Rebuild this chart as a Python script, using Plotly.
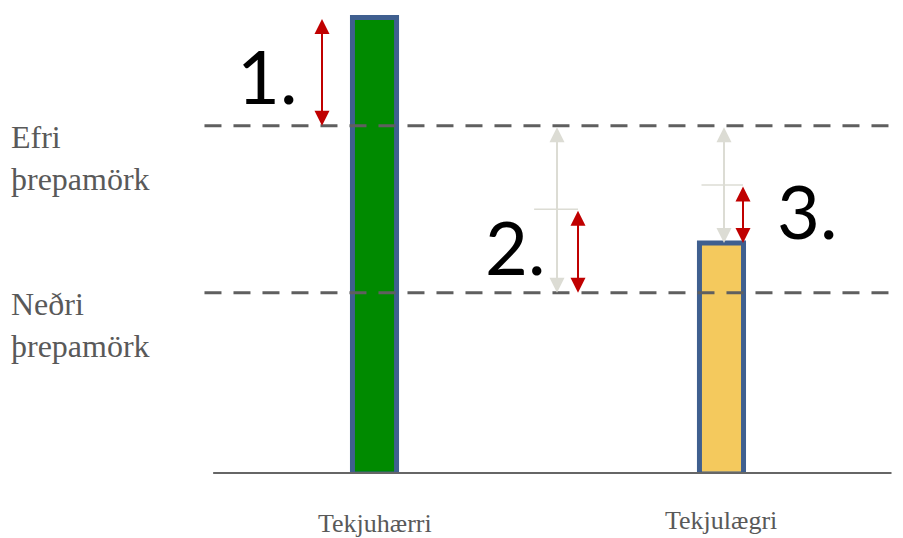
import plotly.graph_objects as go

# Categories and bar values
categories = ["Tekjuhærri", "Tekjulægri"]
bar_values = [100, 50.6]
bar_colors = ["#008a00", "#f4c95d"]

# Threshold levels (upper and lower step limits)
upper_limit = 76.3
lower_limit = 39.7
threshold_labels = ["Efri<br>þrepamörk", "Neðri<br>þrepamörk"]

# Partial levels marked by the short red arrows
mark_2 = 58.0
mark_3 = 63.3
step_labels = ["1.", "2.", "3."]

RED = "#c00000"
LIGHT = "#dcdcd4"
DASH = "#5f5f5f"

fig = go.Figure()
fig.add_trace(go.Bar(
    x=categories, y=bar_values, width=0.127,
    marker=dict(color=bar_colors, line=dict(color="#3f5f8f", width=5)),
    showlegend=False, hoverinfo="skip",
))

shapes = []
# dashed threshold lines
for lvl in (upper_limit, lower_limit):
    shapes.append(dict(type="line", xref="x", yref="y", x0=-0.49, x1=1.49, y0=lvl, y1=lvl,
                       line=dict(color=DASH, width=3, dash="17px,12px")))
# baseline
shapes.append(dict(type="line", xref="x", yref="y", x0=-0.465, x1=1.49, y0=0, y1=0,
                   line=dict(color="#666666", width=4)))
# small horizontal ticks where red arrows start
shapes.append(dict(type="line", xref="x", yref="y", x0=0.46, x1=0.5865, y0=mark_2, y1=mark_2,
                   line=dict(color=LIGHT, width=1.5)))
shapes.append(dict(type="line", xref="x", yref="y", x0=0.9424, x1=1.062, y0=mark_3, y1=mark_3,
                   line=dict(color=LIGHT, width=1.5)))

annotations = []


def double_arrow(x, y_top, y_bottom, color):
    return dict(x=x, y=y_bottom, ax=x, ay=y_top, xref="x", yref="y", axref="x", ayref="y",
                text="", showarrow=True, arrowside="end+start", arrowhead=2, startarrowhead=2,
                arrowsize=1.5, startarrowsize=1.5, arrowwidth=2, arrowcolor=color,
                standoff=0, startstandoff=0)


annotations.append(double_arrow(-0.1513, bar_values[0], upper_limit, RED))
annotations.append(double_arrow(0.526, upper_limit, lower_limit, LIGHT))
annotations.append(double_arrow(0.5865, mark_2, lower_limit, RED))
annotations.append(double_arrow(1.0072, upper_limit, bar_values[1], LIGHT))
annotations.append(double_arrow(1.062, mark_3, bar_values[1], RED))

# step numbers
num_font = dict(family="Lato", size=74, color="black")
for txt, x, y in zip(step_labels, [-0.31, 0.405, 1.245], [87.3, 49.8, 57.8]):
    annotations.append(dict(x=x, y=y, xref="x", yref="y", text=txt, showarrow=False,
                            font=num_font, xanchor="center", yanchor="middle"))

# threshold labels on the left
lab_font = dict(family="Liberation Serif", size=32, color="#595959")
for txt, lvl in zip(threshold_labels, [upper_limit, lower_limit]):
    annotations.append(dict(x=-1.052, y=lvl, xref="x", yref="y", text=txt, showarrow=False,
                            font=lab_font, xanchor="left", yanchor="top", align="left", yshift=9))

# category labels under the bars
cat_font = dict(family="Liberation Serif", size=26, color="#595959")
for i, (txt, yoff) in enumerate(zip(categories, [-49, -46])):
    annotations.append(dict(x=i, y=0, xref="x", yref="y", text=txt, showarrow=False,
                            font=cat_font, xanchor="center", yanchor="middle", yshift=yoff))

fig.update_layout(
    width=903, height=538,
    margin=dict(l=0, r=0, t=0, b=64),
    paper_bgcolor="white", plot_bgcolor="white",
    xaxis=dict(type="category", range=[-1.0793, 1.5231], showticklabels=False,
               showgrid=False, zeroline=False, showline=False, fixedrange=True),
    yaxis=dict(range=[0, 103.83], visible=False, fixedrange=True),
    shapes=shapes, annotations=annotations,
)

fig.write_html("out.html")
